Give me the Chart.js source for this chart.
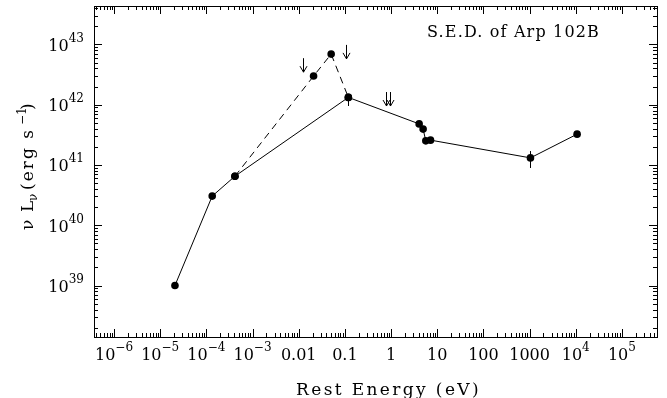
<!DOCTYPE html>
<html>
<head>
<meta charset="utf-8">
<script src="https://cdn.jsdelivr.net/npm/chart.js@4.4.0/dist/chart.umd.min.js"></script>
<style>
  html, body { margin: 0; padding: 0; background: #fff; }
  canvas { display: block; }
</style>
</head>
<body>
<canvas id="sed" width="667" height="398"></canvas>
<script>
// S.E.D. of Arp 102B (eV, erg/s)
const solidEnergy = [2.09e-5, 1.34e-4, 4.16e-4, 0.119, 4.06, 4.95, 5.66, 7.16, 1045, 1.07e4];
const solidLum = [1.0e39, 3.04e40, 6.5e40, 1.32e42, 4.8e41, 3.93e41, 2.51e41, 2.58e41, 1.31e41, 3.24e41];

const dashEnergy = [4.16e-4, 0.021, 0.0505, 0.119];
const dashLum = [6.5e40, 2.98e42, 6.9e42, 1.32e42];

// upper limits, arrow starts at the value and points down
const limitEnergy = [0.0125, 0.105, 0.76, 0.95];
const limitLum = [5.9e42, 9.8e42, 1.62e42, 1.62e42];

// vertical error bars
const errEnergy = [0.119, 1045];
const errLow = [9.5e41, 8.9e40];
const errHigh = [1.48e42, 1.7e41];

const xTickValues = [1e-6, 1e-5, 1e-4, 1e-3, 0.01, 0.1, 1, 10, 100, 1000, 1e4, 1e5];
const xTickLabels = ['10^−6', '10^−5', '10^−4', '10^−3', '0.01', '0.1', '1', '10', '100', '1000', '10^4', '10^5'];
const yTickValues = [1e39, 1e40, 1e41, 1e42, 1e43];
const yTickLabels = ['10^39', '10^40', '10^41', '10^42', '10^43'];

const FONT = '"DejaVu Serif", serif';

function drawPower(ctx, label, left, baseline) {
  const parts = label.split('^');
  ctx.font = '16px ' + FONT;
  ctx.fillText(parts[0], left, baseline);
  if (parts[1]) {
    const w = ctx.measureText(parts[0]).width;
    ctx.font = '12px ' + FONT;
    ctx.fillText(parts[1], left + w, baseline - 9);
  }
}

function powerWidth(ctx, label) {
  const parts = label.split('^');
  ctx.font = '16px ' + FONT;
  let w = ctx.measureText(parts[0]).width;
  if (parts[1]) {
    ctx.font = '12px ' + FONT;
    w += ctx.measureText(parts[1]).width;
  }
  return w;
}

// draw text stretched to a given width with letter spacing
function spacedText(ctx, text, left, baseline, width) {
  ctx.letterSpacing = '0px';
  const w = ctx.measureText(text).width;
  ctx.letterSpacing = Math.max(0, (width - w) / text.length) + 'px';
  ctx.fillText(text, left, baseline);
  ctx.letterSpacing = '0px';
}

const framePlugin = {
  id: 'frame',
  afterDatasetsDraw(chart) {
    const { ctx, chartArea: a, scales: { x, y } } = chart;
    ctx.save();
    ctx.strokeStyle = '#000';
    ctx.fillStyle = '#000';
    ctx.lineWidth = 1;

    // error bars
    errEnergy.forEach((e, i) => {
      const px = Math.round(x.getPixelForValue(e)) + 0.5;
      ctx.beginPath();
      ctx.moveTo(px, y.getPixelForValue(errHigh[i]));
      ctx.lineTo(px, y.getPixelForValue(errLow[i]));
      ctx.stroke();
    });

    // upper limit arrows
    limitEnergy.forEach((e, i) => {
      const px = Math.round(x.getPixelForValue(e)) + 0.5;
      const py = y.getPixelForValue(limitLum[i]);
      ctx.beginPath();
      ctx.moveTo(px, py);
      ctx.lineTo(px, py + 14);
      ctx.moveTo(px - 3.5, py + 8);
      ctx.lineTo(px, py + 14);
      ctx.lineTo(px + 3.5, py + 8);
      ctx.stroke();
    });

    // frame
    ctx.strokeRect(a.left + 0.5, a.top + 0.5, a.right - a.left, a.bottom - a.top);

    // minor and major ticks, pointing inward on all sides
    ctx.beginPath();
    for (let d = -7; d <= 5; d++) {
      for (let m = 1; m <= 9; m++) {
        const v = m * Math.pow(10, d);
        if (v < x.min || v > x.max) continue;
        const px = Math.round(x.getPixelForValue(v)) + 0.5;
        const len = m === 1 ? 8 : 4;
        ctx.moveTo(px, a.bottom);
        ctx.lineTo(px, a.bottom - len);
        ctx.moveTo(px, a.top);
        ctx.lineTo(px, a.top + len);
      }
    }
    for (let d = 38; d <= 43; d++) {
      for (let m = 1; m <= 9; m++) {
        const v = m * Math.pow(10, d);
        if (v < y.min || v > y.max) continue;
        const py = Math.round(y.getPixelForValue(v)) + 0.5;
        const len = m === 1 ? 8 : 4;
        ctx.moveTo(a.left, py);
        ctx.lineTo(a.left + len, py);
        ctx.moveTo(a.right, py);
        ctx.lineTo(a.right - len, py);
      }
    }
    ctx.stroke();

    // tick labels
    ctx.textBaseline = 'alphabetic';
    ctx.textAlign = 'left';
    xTickValues.forEach((v, i) => {
      const px = x.getPixelForValue(v);
      const w = powerWidth(ctx, xTickLabels[i]);
      drawPower(ctx, xTickLabels[i], px - w / 2, a.bottom + 23);
    });
    yTickValues.forEach((v, i) => {
      const py = y.getPixelForValue(v);
      const w = powerWidth(ctx, yTickLabels[i]);
      drawPower(ctx, yTickLabels[i], a.left - 10 - w, py + 6.5);
    });

    // axis titles
    ctx.font = '17px ' + FONT;
    spacedText(ctx, 'Rest Energy (eV)', 296, 395, 185);
    ctx.font = '16px ' + FONT;
    spacedText(ctx, 'S.E.D. of Arp 102B', 427, 37, 173);

    ctx.save();
    ctx.translate(33, 230);
    ctx.rotate(-Math.PI / 2);
    ctx.font = '17px ' + FONT;
    ctx.fillText('ν', 0, 0);
    ctx.fillText('L', 18, 0);
    ctx.font = '12px ' + FONT;
    ctx.fillText('ν', 29, 4);
    ctx.font = '17px ' + FONT;
    spacedText(ctx, '(erg s', 40, 0, 62);
    ctx.font = '12px ' + FONT;
    ctx.fillText('−1', 105, -7);
    ctx.font = '17px ' + FONT;
    ctx.fillText(')', 120, 0);
    ctx.restore();

    ctx.restore();
  }
};

new Chart(document.getElementById('sed'), {
  type: 'scatter',
  data: {
    datasets: [
      {
        label: 'SED',
        data: solidEnergy.map((e, i) => ({ x: e, y: solidLum[i] })),
        showLine: true,
        borderColor: '#000',
        borderWidth: 1,
        backgroundColor: '#000',
        pointRadius: 3.8,
        pointBorderWidth: 0
      },
      {
        label: 'SED (alt)',
        data: dashEnergy.map((e, i) => ({ x: e, y: dashLum[i] })),
        showLine: true,
        borderColor: '#000',
        borderWidth: 1,
        borderDash: [7, 5],
        backgroundColor: '#000',
        pointRadius: 3.8,
        pointBorderWidth: 0
      }
    ]
  },
  options: {
    responsive: false,
    devicePixelRatio: 1,
    animation: false,
    layout: { padding: { left: 94, right: 10, top: 6, bottom: 61 } },
    plugins: { legend: { display: false }, tooltip: { enabled: false } },
    scales: {
      x: { type: 'logarithmic', display: false, min: 3.69e-7, max: 5.75e5 },
      y: { type: 'logarithmic', display: false, min: 1.40e38, max: 4.33e43 }
    }
  },
  plugins: [framePlugin]
});
</script>
</body>
</html>
